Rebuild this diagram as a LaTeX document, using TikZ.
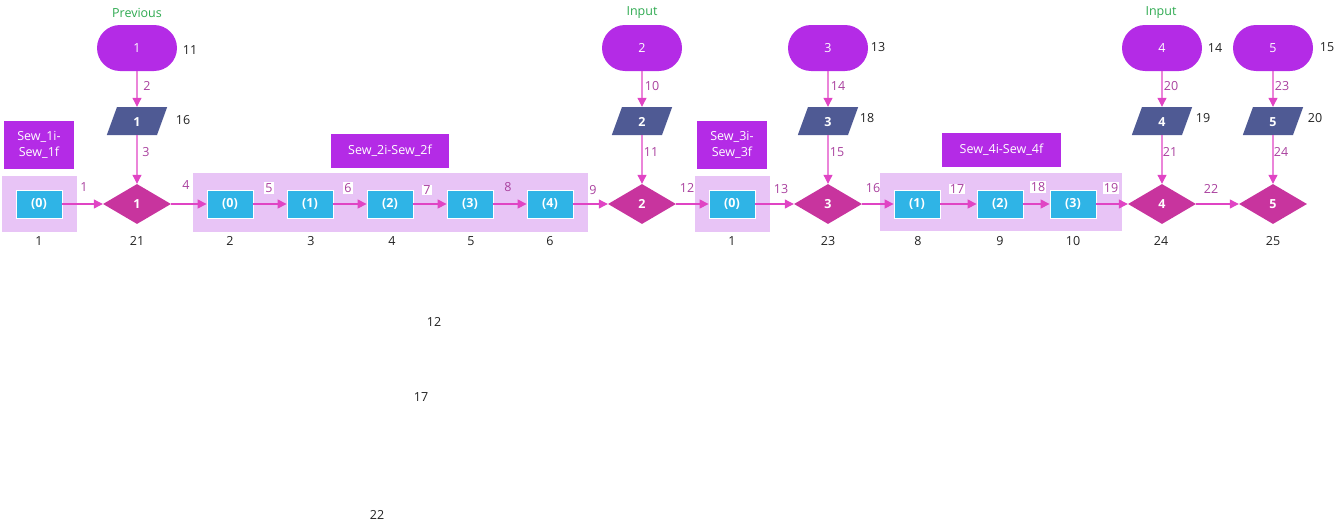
\documentclass[tikz,border=0pt]{standalone}
\usepackage{fontspec}
\setmainfont{Open Sans}
\usetikzlibrary{shapes.geometric,shapes.misc,arrows.meta}
\definecolor{termc}{HTML}{B42BE6}
\definecolor{parac}{HTML}{4F5A94}
\definecolor{diamc}{HTML}{C8349E}
\definecolor{boxc}{HTML}{2FB4E6}
\definecolor{grpc}{HTML}{E8C4F6}
\definecolor{edgec}{HTML}{E044C4}
\definecolor{elabc}{HTML}{A9409E}
\definecolor{greenc}{HTML}{2EAA50}
\definecolor{numc}{HTML}{222222}
\begin{document}
\begin{tikzpicture}[x=1pt,y=-1pt,
  every node/.style={font=\fontsize{12.5}{15}\selectfont},
  term/.style={rounded rectangle, fill=termc, text=white, minimum width=80, minimum height=46, inner sep=0},
  para/.style={trapezium, trapezium left angle=70, trapezium right angle=110,
     fill=parac, text=white, font=\fontsize{12.5}{15}\selectfont\bfseries,
     text height=10pt, text depth=0pt, text width=8pt, align=center, inner ysep=9pt, inner xsep=16pt},
  diam/.style={diamond, fill=diamc, text=white, font=\fontsize{12.5}{15}\selectfont\bfseries, minimum width=68, minimum height=40, inner sep=0},
  boxn/.style={rectangle, fill=boxc, draw=white, line width=0.8, text=white, font=\fontsize{12.5}{15}\selectfont\bfseries, minimum width=46, minimum height=28, inner sep=0},
  grp/.style={rectangle, fill=grpc, inner sep=0},
  lab/.style={rectangle, fill=termc, text=white, align=center, inner sep=0, font=\fontsize{12.5}{16}\selectfont},
  conn/.style={draw=edgec, line width=1.1, -{Triangle[length=9,width=9]}},
  elab/.style={text=elabc, inner sep=1},
  elabw/.style={text=elabc, fill=white, inner sep=1},
  num/.style={text=numc},
  grn/.style={text=greenc}
]
\useasboundingbox (0,0) rectangle (1342,530);

% groups
\node[grp, minimum width=75, minimum height=56] (g1) at (39.5,204) {};
\node[grp, minimum width=395, minimum height=59] (g2) at (390.5,202.5) {};
\node[grp, minimum width=75, minimum height=56] (g3) at (732.5,204) {};
\node[grp, minimum width=242, minimum height=58] (g4) at (1001,202) {};

% group labels
\node[lab, minimum width=70, minimum height=48] (l1) at (39,145) {Sew\_1i-\\Sew\_1f};
\node[lab, minimum width=118, minimum height=34] (l2) at (390,151) {Sew\_2i-Sew\_2f};
\node[lab, minimum width=70, minimum height=48] (l3) at (732,145) {Sew\_3i-\\Sew\_3f};
\node[lab, minimum width=119, minimum height=34] (l4) at (1001.5,150) {Sew\_4i-Sew\_4f};

% terminals
\node[term] (t1) at (137,48) {1};
\node[term] (t2) at (642,48) {2};
\node[term] (t3) at (828,48) {3};
\node[term] (t4) at (1162,48) {4};
\node[term] (t5) at (1273,48) {5};

% parallelograms
\node[para] (p1) at (137,121) {1};
\node[para] (p2) at (642,121) {2};
\node[para] (p3) at (828,121) {3};
\node[para] (p4) at (1162,121) {4};
\node[para] (p5) at (1273,121) {5};

% diamonds
\node[diam] (d1) at (137,204) {1};
\node[diam] (d2) at (642,204) {2};
\node[diam] (d3) at (828,204) {3};
\node[diam] (d4) at (1162,204) {4};
\node[diam] (d5) at (1273,204) {5};

% boxes
\node[boxn] (a0) at (39,204) {(0)};
\node[boxn] (b0) at (230,204) {(0)};
\node[boxn] (b1) at (310,204) {(1)};
\node[boxn] (b2) at (390,204) {(2)};
\node[boxn] (b3) at (470,204) {(3)};
\node[boxn] (b4) at (550,204) {(4)};
\node[boxn] (c0) at (732,204) {(0)};
\node[boxn] (e1) at (917,204) {(1)};
\node[boxn] (e2) at (1000,204) {(2)};
\node[boxn] (e3) at (1073,204) {(3)};

% connectors
\draw[conn] (a0) -- (d1);
\draw[conn] (d1) -- (b0);
\draw[conn] (b0) -- (b1);
\draw[conn] (b1) -- (b2);
\draw[conn] (b2) -- (b3);
\draw[conn] (b3) -- (b4);
\draw[conn] (b4) -- (d2);
\draw[conn] (d2) -- (c0);
\draw[conn] (c0) -- (d3);
\draw[conn] (d3) -- (e1);
\draw[conn] (e1) -- (e2);
\draw[conn] (e2) -- (e3);
\draw[conn] (e3) -- (d4);
\draw[conn] (d4) -- (d5);
\draw[conn] (t1) -- (p1);
\draw[conn] (p1) -- (d1);
\draw[conn] (t2) -- (p2);
\draw[conn] (p2) -- (d2);
\draw[conn] (t3) -- (p3);
\draw[conn] (p3) -- (d3);
\draw[conn] (t4) -- (p4);
\draw[conn] (p4) -- (d4);
\draw[conn] (t5) -- (p5);
\draw[conn] (p5) -- (d5);

% edge labels
\node[elab] (el1) at (84,187) {1};
\node[elab] (el4) at (186,185) {4};
\node[elabw] (el5) at (269,188) {5};
\node[elabw] (el6) at (348,188) {6};
\node[elabw] (el7) at (427,190) {7};
\node[elab] (el8) at (508,187) {8};
\node[elab] (el9) at (593,190) {9};
\node[elab] (el12) at (687,188) {12};
\node[elab] (el13) at (781,189) {13};
\node[elab] (el16) at (873,188) {16};
\node[elabw] (el17) at (957,189) {17};
\node[elabw] (el18) at (1038,187) {18};
\node[elabw] (el19) at (1111,188) {19};
\node[elab] (el22) at (1211,189) {22};
\node[elab] (el2) at (147,86) {2};
\node[elab] (el3) at (146,152) {3};
\node[elab] (el10) at (652,86) {10};
\node[elab] (el11) at (651,152) {11};
\node[elab] (el14) at (838,86) {14};
\node[elab] (el15) at (837,152) {15};
\node[elab] (el20) at (1171,86) {20};
\node[elab] (el21) at (1170,152) {21};
\node[elab] (el23) at (1282,86) {23};
\node[elab] (el24) at (1281,152) {24};

% top captions
\node[grn] (cap1) at (137,13) {Previous};
\node[grn] (cap2) at (642,13) {Input};
\node[grn] (cap4) at (1161,13) {Input};

% number labels
\node[num] (n11) at (190,50) {11};
\node[num] (n13) at (878,47) {13};
\node[num] (n14) at (1215,48) {14};
\node[num] (n15) at (1327,47) {15};
\node[num] (n16) at (183,120) {16};
\node[num] (n18) at (867,118) {18};
\node[num] (n19) at (1203,118) {19};
\node[num] (n20) at (1315,118) {20};
\node[num] (n21) at (137,241) {21};
\node[num] (n23) at (828,241) {23};
\node[num] (n24) at (1161,241) {24};
\node[num] (n25) at (1273,241) {25};
\node[num] (m1) at (39,241) {1};
\node[num] (m2) at (230,241) {2};
\node[num] (m3) at (311,241) {3};
\node[num] (m4) at (392,241) {4};
\node[num] (m5) at (471,241) {5};
\node[num] (m6) at (550,241) {6};
\node[num] (m7) at (732,241) {1};
\node[num] (m8) at (918,241) {8};
\node[num] (m9) at (1000,241) {9};
\node[num] (m10) at (1073,241) {10};
\node[num] (s12) at (434,322) {12};
\node[num] (s17) at (421,397) {17};
\node[num] (s22) at (377,515) {22};
\end{tikzpicture}
\end{document}
